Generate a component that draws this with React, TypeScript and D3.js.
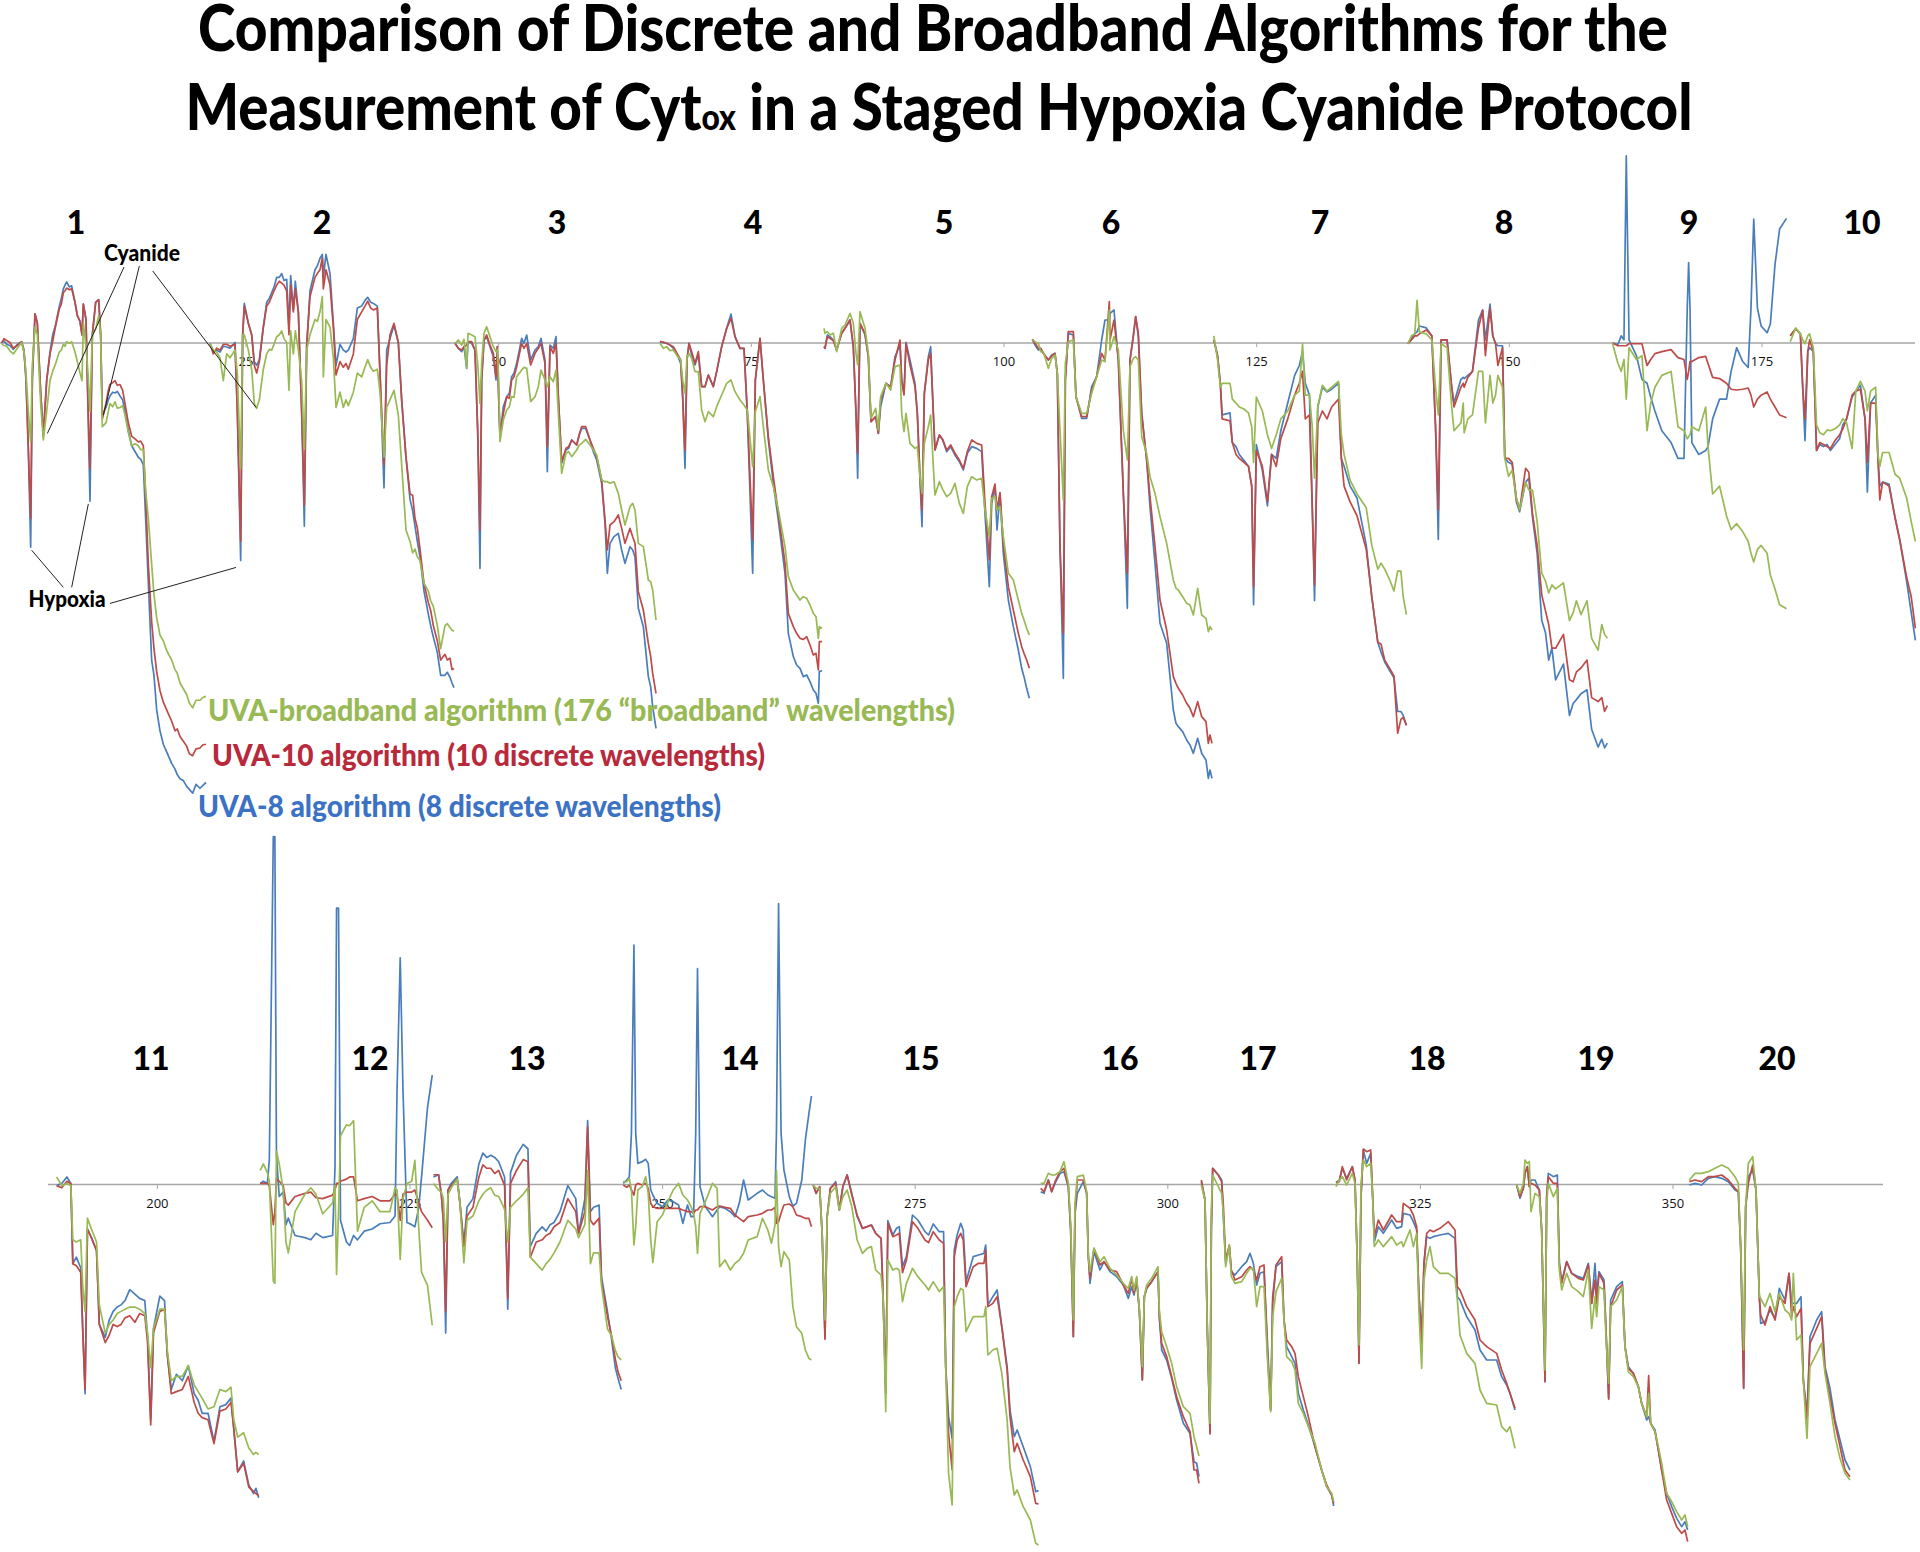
import React from "react";
import * as d3 from "d3";

// Each row: [time reading, UVA-8, UVA-10, UVA-broadband]; readings are digitised in the frame named per panel.
const panel1 = [[5,320,322,325],[12,316,310,328],[20,325,315,330],[30,328,320,342],[40,338,335,350],[52,325,328,335],[65,318,318,320],[72,340,345,345],[78,420,410,400],[85,600,600,500],[92,855,780,580],[97,420,410,380],[105,245,245,280],[112,270,270,300],[122,450,450,480],[130,560,565,575],[140,420,420,500],[150,345,350,420],[158,300,318,395],[165,280,285,380],[178,225,232,345],[184,205,220,340],[190,180,190,325],[195,170,185,330],[200,162,178,318],[208,175,182,322],[215,172,180,318],[225,215,215,345],[232,250,250,370],[240,265,265,400],[246,300,300,420],[250,220,220,270],[258,260,260,330],[264,500,480,400],[270,735,650,500],[277,300,300,300],[287,215,215,285],[296,208,208,250],[302,300,300,300],[307,510,520,540],[318,490,480,530],[325,470,445,500],[330,460,430,480],[338,450,425,488],[345,452,420,475],[352,448,432,492],[360,460,430,490],[368,470,445,485],[375,500,480,510],[385,550,530,555],[395,590,565,590],[405,605,572,585],[415,620,580,590],[422,625,578,600],[430,640,590,600],[436,760,700,700],[445,950,900,780],[455,1150,1050,900],[462,1190,1120,980],[470,1280,1180,1040],[480,1335,1230,1085],[490,1370,1260,1100],[500,1390,1280,1125],[515,1420,1310,1150],[525,1435,1335,1175],[532,1450,1330,1185],[540,1460,1350,1210],[550,1465,1362,1225],[560,1480,1375,1240],[568,1488,1395,1262],[578,1498,1400,1275],[588,1475,1382,1255],[600,1485,1380,1255],[608,1478,1372,1248],[618,1470,1370,1245]];
const panel2 = [[630,323,323,323],[640,345,350,340],[650,340,335,345],[660,345,340,360],[670,330,325,420],[680,332,325,350],[690,335,330,360],[705,320,325,340],[712,500,500,400],[722,890,840,650],[728,300,300,300],[733,218,225,300],[745,270,270,340],[755,300,300,390],[763,370,380,480],[770,380,400,492],[778,365,370,470],[790,280,280,390],[800,215,225,350],[808,205,215,338],[815,190,200,340],[822,175,185,325],[830,150,170,305],[838,150,160,300],[845,140,165,290],[852,158,170,310],[860,155,185,320],[867,280,300,445],[872,145,170,290],[880,235,240,350],[886,160,180,290],[895,240,240,340],[905,500,500,420],[913,800,745,600],[920,330,330,340],[930,185,200,300],[945,130,150,260],[952,120,140,265],[960,100,130,240],[967,90,100,200],[970,150,180,410],[978,90,130,260],[990,140,170,280],[1000,270,280,360],[1008,380,405,490],[1020,325,370,450],[1030,340,385,490],[1038,345,375,470],[1045,340,390,485],[1060,310,350,450],[1072,230,260,400],[1085,225,240,410],[1095,210,225,385],[1103,202,212,365],[1112,215,230,385],[1120,218,235,395],[1132,225,230,390],[1140,400,400,450],[1152,700,640,620],[1160,340,380,490],[1170,310,300,470],[1182,275,270,445],[1195,320,320,510],[1205,470,470,640],[1218,620,620,810],[1230,730,715,840],[1238,760,720,870],[1245,800,780,860],[1252,840,805,880],[1260,880,860,890],[1272,970,950,950],[1285,1030,1000,970],[1292,1060,1020,995],[1300,1090,1060,1010],[1312,1130,1100,1060],[1322,1190,1150,1120],[1335,1190,1135,1060],[1342,1182,1150,1055],[1350,1195,1145,1065],[1356,1210,1175,1072],[1362,1222,1172,1075]];
const panel3 = [[45,190,190,190],[55,205,205,180],[65,215,210,195],[72,200,200,178],[80,265,195,265],[84,185,185,160],[95,190,185,165],[105,210,210,170],[113,450,450,250],[120,865,750,370],[125,300,300,250],[132,180,180,160],[140,170,165,140],[150,200,195,170],[160,230,220,200],[168,300,290,215],[172,200,200,210],[176,350,350,300],[180,470,470,485],[190,380,400,420],[200,350,350,390],[208,340,355,380],[215,290,300,350],[222,280,290,352],[230,250,260,290],[245,175,190,270],[252,190,205,262],[260,165,190,265],[272,240,255,365],[285,210,220,350],[295,200,205,320],[303,175,190,270],[315,240,250,300],[322,575,500,320],[330,195,200,290],[340,205,220,305],[348,170,190,270],[355,350,350,400],[365,550,545,580],[378,510,505,520],[386,505,500,515],[395,480,480,530],[410,495,495,510],[418,465,462,495],[425,445,440,490],[437,445,440,478],[450,480,480,495],[460,515,505,510],[470,540,530,525],[485,610,600,600],[495,730,720,605],[502,880,810,605],[510,790,735,610],[522,770,725,605],[535,760,705,640],[545,810,745,690],[555,850,790,735],[570,800,745,680],[578,810,770,670],[585,830,790,690],[595,985,935,790],[610,1040,990,800],[625,1190,1090,900],[632,1220,1130,905],[638,1280,1180,930],[648,1345,1240,1020]];
const panel4 = [[660,185,185,190],[670,188,186,205],[680,190,190,200],[690,195,195,212],[700,205,200,210],[712,225,222,228],[722,250,240,240],[728,350,350,300],[735,565,510,340],[741,240,240,230],[747,190,190,220],[755,225,215,235],[765,255,250,275],[775,225,215,275],[785,320,320,390],[795,320,320,425],[805,285,285,395],[820,320,320,410],[830,275,275,380],[845,200,200,345],[860,145,145,310],[873,102,115,300],[885,170,170,335],[900,205,205,360],[912,205,205,375],[922,400,400,390],[938,880,780,560],[946,300,300,395],[960,175,175,350],[970,300,300,440],[985,480,470,570],[1000,610,590,620],[1015,720,700,690],[1035,880,850,800],[1045,1060,1000,890],[1060,1130,1040,930],[1070,1155,1060,945],[1080,1165,1075,960],[1090,1190,1078,950],[1100,1185,1070,955],[1110,1205,1095,975],[1120,1230,1125,1000],[1128,1240,1120,1010],[1135,1270,1170,1075],[1138,1175,1085,1040],[1146,1172,1085,1045]];
const panel5 = [[72,200,200,145],[75,205,205,160],[82,165,170,155],[90,170,175,165],[100,180,182,160],[110,210,210,215],[125,160,160,145],[135,145,145,135],[150,120,120,100],[160,200,200,130],[168,400,400,220],[173,595,520,255],[180,130,130,95],[195,165,160,145],[205,230,230,220],[213,425,425,415],[227,410,410,385],[235,460,460,450],[242,380,360,350],[258,310,310,310],[272,320,320,330],[285,230,240,260],[300,195,180,255],[305,300,300,400],[312,340,345,455],[318,187,190,400],[330,240,255,490],[345,310,320,505],[352,400,400,500],[360,600,590,590],[366,740,690,640],[373,340,340,490],[385,230,240,440],[392,200,220,405],[400,400,400,560],[405,510,510,645],[418,465,465,605],[428,480,478,628],[440,515,510,650],[452,500,495,640],[465,525,520,610],[478,545,540,670],[490,570,565,700],[502,520,515,620],[515,500,480,590],[530,505,490,600],[545,515,495,595],[555,700,670,690],[568,920,840,770],[575,670,650,655],[585,620,612,650],[591,750,690,690],[600,640,638,680],[610,820,790,770],[625,960,920,880],[640,1040,990,900],[655,1110,1060,960],[665,1165,1100,1000],[672,1190,1120,1020],[680,1225,1140,1045],[688,1255,1165,1065]];
const panel6 = [[697,178,178,178],[705,195,190,185],[715,210,205,190],[722,205,205,215],[730,220,220,215],[745,240,240,265],[755,225,228,235],[765,220,220,225],[772,280,280,280],[780,800,800,450],[790,1195,1060,660],[796,300,300,250],[805,160,155,185],[820,165,155,180],[828,350,350,350],[845,415,410,400],[860,415,410,400],[875,320,330,340],[890,290,290,290],[905,180,220,240],[915,120,240,245],[928,120,65,90],[930,100,180,210],[942,90,120,170],[955,240,240,210],[970,640,640,450],[982,985,880,540],[990,240,240,260],[1000,165,170,235],[1007,110,110,230],[1015,170,160,240],[1025,400,400,470],[1040,540,540,520],[1050,680,650,590],[1065,850,800,640],[1080,1030,960,710],[1100,1090,1050,790],[1120,1290,1190,900],[1128,1330,1210,925],[1135,1340,1225,930],[1148,1355,1245,950],[1160,1380,1270,970],[1170,1395,1285,975],[1180,1420,1310,1005],[1193,1375,1265,925],[1205,1420,1310,1005],[1218,1440,1325,1015],[1225,1495,1390,1055],[1230,1470,1365,1040],[1236,1495,1390,1050]];
const panel7 = [[30,480,480,470],[38,520,520,530],[44,590,590,600],[48,670,680,590],[65,665,685,590],[70,740,740,630],[78,750,770,640],[85,770,780,650],[95,785,790,655],[105,800,800,665],[112,850,850,700],[116,1150,1105,790],[122,745,760,625],[135,810,800,660],[146,900,890,720],[155,770,770,755],[165,780,800,720],[175,710,730,680],[190,640,680,660],[205,570,620,620],[215,545,590,610],[222,510,560,490],[228,590,680,620],[237,620,670,620],[243,900,900,700],[248,1140,1100,830],[255,650,690,650],[265,600,660,595],[275,612,680,610],[285,605,650,600],[300,590,630,585],[306,780,780,720],[312,800,850,770],[325,850,890,835],[340,880,925,870],[360,1000,1010,905],[372,1130,1130,1000],[385,1245,1245,1060],[392,1270,1250,1045],[400,1295,1290,1060],[410,1315,1310,1085],[420,1335,1330,1115],[428,1420,1475,1065],[435,1420,1440,1065],[440,1430,1435,1130],[447,1455,1455,1175]];
const panel8 = [[450,490,490,490],[458,475,480,470],[465,465,470,465],[470,460,470,380],[475,445,465,460],[490,450,455,465],[502,470,470,480],[510,700,700,600],[516,985,910,670],[522,480,480,490],[535,480,480,500],[545,600,600,650],[550,640,650,710],[565,580,600,690],[570,575,590,640],[572,578,600,715],[580,570,575,680],[590,560,560,670],[603,430,450,560],[612,405,405,560],[618,480,520,690],[628,390,400,570],[634,470,470,640],[640,490,490,620],[645,495,545,570],[655,495,500,600],[660,780,780,780],[668,790,780,825],[676,795,790,810],[685,890,880,880],[692,915,910,910],[705,840,805,840],[712,830,815,860],[720,930,920,860],[730,1020,1000,940],[740,1190,1125,1070],[748,1220,1165,1090],[755,1290,1200,1120],[762,1260,1260,1100],[770,1340,1260,1110],[787,1300,1225,1095],[800,1430,1340,1190],[808,1400,1345,1170],[815,1390,1320,1140],[825,1375,1310,1175],[838,1365,1290,1140],[848,1465,1385,1235],[862,1510,1395,1265],[870,1490,1385,1200],[876,1512,1420,1225],[882,1500,1405,1235]];
const panel9 = [[893,488,488,488],[905,492,495,540],[912,470,495,560],[918,480,495,530],[923,15,495,630],[929,480,490,500],[945,520,490,530],[957,580,490,520],[968,590,545,710],[976,625,530,640],[985,660,515,600],[1000,710,510,570],[1020,740,505,560],[1035,780,525,700],[1048,780,530,710],[1055,400,580,730],[1058,285,560,725],[1061,400,535,720],[1065,740,535,700],[1080,770,525,710],[1095,760,522,650],[1100,750,540,750],[1110,680,575,870],[1125,630,578,850],[1140,630,590,925],[1150,560,605,960],[1162,500,607,945],[1175,535,605,965],[1187,550,602,990],[1193,400,620,1020],[1199,175,650,1042],[1207,400,630,1010],[1215,445,620,1000],[1228,462,612,1020],[1235,440,630,1075],[1245,290,650,1110],[1255,200,670,1150],[1270,173,677,1160]];
const panel10 = [[1278,470,470,485],[1290,452,452,450],[1300,465,465,465],[1305,600,600,480],[1310,735,680,490],[1316,510,510,470],[1320,500,480,465],[1328,510,510,500],[1335,760,760,695],[1342,745,740,715],[1350,750,745,720],[1358,745,750,708],[1365,760,755,710],[1375,745,735,705],[1385,730,720,695],[1392,695,705,680],[1400,680,680,690],[1412,625,620,755],[1420,610,610,610],[1430,595,605,585],[1440,680,680,610],[1445,865,790,660],[1452,640,640,610],[1463,620,640,600],[1468,780,780,770],[1472,850,885,800],[1478,840,840,765],[1492,845,850,765],[1505,930,930,820],[1515,985,985,830],[1530,1090,1080,880],[1540,1170,1130,940],[1549,1240,1210,990]];
const panel11 = [[42,820,820,800],[55,815,825,820],[68,800,810,815],[78,815,815,820],[83,1000,1000,945],[92,985,1005,950],[103,1010,1020,945],[108,1150,1150,1050],[114,1300,1290,1110],[120,920,920,895],[130,940,940,920],[143,970,970,950],[150,1140,1140,1095],[165,1170,1182,1160],[175,1130,1165,1140],[185,1110,1140,1130],[195,1100,1145,1115],[205,1095,1140,1110],[215,1085,1125,1105],[227,1060,1120,1100],[240,1070,1135,1100],[252,1080,1115,1105],[265,1085,1120,1115],[272,1170,1180,1160],[280,1360,1372,1240],[287,1150,1160,1150],[303,1075,1110,1105],[315,1085,1105,1105],[322,1210,1210,1200],[332,1290,1300,1270],[345,1255,1295,1260],[360,1270,1290,1260],[375,1235,1260,1235],[390,1300,1320,1280],[400,1315,1345,1295],[410,1345,1355,1310],[425,1345,1360,1335],[440,1410,1415,1330],[455,1330,1340,1290],[470,1325,1335,1295],[483,1310,1320,1285],[490,1380,1380,1360],[500,1480,1480,1400],[515,1455,1460,1390],[528,1510,1515,1425],[540,1530,1525,1440],[546,1518,1530,1435],[553,1540,1535,1440]];
const panel12 = [[557,815,815,785],[565,810,815,770],[575,815,815,790],[580,760,820,810],[590,15,910,1040],[594,15,880,1045],[598,750,805,740],[605,845,810,770],[615,835,820,830],[622,910,860,950],[628,895,865,975],[645,935,845,880],[670,940,838,840],[685,945,835,825],[698,930,848,840],[715,940,850,885],[740,935,842,860],[746,780,830,820],[750,180,815,1025],[755,180,815,880],[760,900,810,705],[775,950,805,680],[783,958,800,682],[793,935,800,670],[803,945,855,925],[820,925,850,870],[840,920,845,855],[860,908,855,880],[885,905,855,880],[898,890,840,825],[903,600,840,830],[911,295,900,990],[918,600,840,850],[928,905,835,815],[940,910,835,810],[948,915,830,762],[958,870,860,920],[965,800,880,1020],[980,640,900,1050],[992,565,917,1142]];
const panel13 = [[995,800,795,815],[1008,795,795,830],[1015,840,840,835],[1020,900,900,850],[1026,1160,1110,950],[1032,830,830,840],[1040,815,820,825],[1055,800,805,805],[1062,860,860,860],[1072,955,960,998],[1080,870,890,900],[1095,850,870,890],[1110,770,800,855],[1120,745,772,840],[1130,755,780,830],[1140,750,780,825],[1150,755,792,842],[1160,765,785,845],[1175,800,820,875],[1183,1105,1080,950],[1190,790,815,870],[1205,750,785,855],[1222,725,760,840],[1234,735,765,825],[1240,960,985,985],[1255,930,950,1000],[1270,915,945,1015],[1280,925,935,1000],[1290,910,930,990],[1300,905,915,975],[1315,880,905,950],[1335,820,850,900],[1355,850,880,920],[1362,930,930,940],[1378,850,880,910],[1385,670,685,785],[1392,880,900,1000],[1400,870,910,975],[1414,865,895,975],[1420,1030,1040,1050],[1435,1110,1120,1150],[1445,1170,1165,1165],[1455,1240,1220,1200],[1462,1265,1250,1215],[1470,1290,1270,1222]];
const panel14 = [[65,250,255,245],[75,240,262,245],[82,230,255,235],[88,100,270,270],[95,-465,285,435],[100,100,255,380],[106,190,250,270],[118,185,255,260],[128,178,250,230],[135,190,265,280],[142,270,310,420],[148,285,320,488],[160,310,325,365],[175,320,325,345],[190,300,325,305],[205,305,325,270],[220,315,325,250],[232,370,330,285],[245,315,335,300],[255,350,335,320],[262,350,340,340],[268,100,330,380],[273,-394,330,460],[280,260,320,340],[295,320,320,305],[315,350,330,250],[328,330,320,265],[335,320,318,500],[350,325,322,480],[365,335,325,510],[378,350,345,490],[390,310,355,480],[402,240,365,460],[415,300,350,420],[440,280,345,410],[455,270,340,355],[470,285,330,390],[480,290,330,430],[490,295,322,375],[494,100,370,210],[500,-589,365,440],[507,100,340,500],[515,210,315,455],[530,290,312,480],[540,318,320,620],[550,310,345,680],[565,240,350,700],[575,120,355,750],[585,40,355,775],[592,-12,380,780]];
const panel15 = [[597,255,255,255],[605,280,280,265],[615,260,260,265],[622,400,400,400],[630,715,718,660],[636,350,350,350],[645,265,265,280],[660,245,250,260],[670,330,330,330],[680,260,260,290],[692,225,225,270],[705,280,285,320],[720,350,345,420],[735,385,385,460],[748,380,380,445],[760,375,375,440],[772,400,400,510],[787,415,415,525],[793,600,600,600],[800,880,880,935],[806,362,370,480],[820,405,410,510],[830,385,405,505],[838,380,400,510],[847,500,518,605],[858,470,480,550],[875,345,365,505],[890,360,385,530],[910,395,420,555],[920,405,428,570],[933,372,395,545],[950,395,420,575],[962,395,430,560],[968,800,800,800],[976,950,1000,1120],[986,1015,1110,1215],[992,450,470,620],[1000,405,420,590],[1010,370,400,565],[1017,390,420,570],[1025,545,560,695],[1045,470,500,650],[1060,465,490,650],[1075,460,490,650],[1080,435,450,620],[1086,615,620,765],[1100,590,610,750],[1112,570,590,745],[1125,680,680,820],[1140,800,810,960],[1148,930,950,1100],[1160,1010,1055,1185],[1168,990,1030,1170],[1185,1040,1080,1220],[1205,1100,1130,1260],[1220,1175,1210,1330],[1228,1172,1212,1335]];
const panel16 = [[62,185,175,160],[72,190,185,160],[85,150,150,130],[95,185,185,135],[105,160,155,135],[120,130,125,125],[132,125,115,95],[145,170,170,160],[152,300,300,280],[160,620,620,570],[165,250,250,220],[172,190,150,140],[190,155,150,135],[200,190,190,185],[205,380,380,380],[210,460,445,425],[222,365,355,355],[240,420,405,395],[252,395,395,380],[270,425,420,415],[290,440,425,435],[310,465,465,460],[325,505,490,475],[335,470,445,440],[342,495,490,480],[350,455,445,440],[358,540,540,540],[367,750,750,710],[373,500,500,500],[380,475,475,465],[395,455,455,445],[414,425,425,410],[418,560,560,540],[425,660,640,605],[440,690,680,650],[455,745,740,700],[470,810,800,770],[490,880,860,830],[510,910,905,850],[522,995,1020,920],[530,1000,1020,950],[537,1040,1060,978]];
const panel17 = [[544,155,150,165],[555,210,210,210],[562,600,600,600],[570,910,912,880],[574,300,300,240],[578,115,115,135],[595,135,135,170],[605,150,155,190],[610,260,225,250],[617,400,390,410],[628,350,345,345],[634,425,420,440],[645,435,450,460],[665,410,440,455],[680,395,420,430],[690,370,410,415],[700,400,420,415],[710,465,450,530],[720,430,410,470],[732,425,405,470],[742,630,660,680],[752,840,840,845],[758,500,520,560],[768,410,405,485],[785,395,380,445],[792,570,570,570],[800,650,630,680],[815,680,650,695],[825,700,670,720],[835,790,740,820],[850,840,800,850],[865,885,860,890],[885,950,950,940],[905,1020,1020,1020],[920,1070,1065,1070],[935,1095,1095,1090],[941,1128,1120,1115]];
const panel18 = [[948,158,158,170],[958,150,155,150],[967,115,110,140],[980,145,150,165],[997,110,110,130],[1005,150,150,160],[1012,400,400,400],[1017,700,700,645],[1023,200,200,160],[1030,60,57,90],[1040,100,65,110],[1052,70,60,100],[1058,200,200,200],[1063,335,320,350],[1075,290,270,330],[1090,310,300,350],[1115,270,255,320],[1130,295,275,345],[1145,290,275,335],[1150,250,220,350],[1170,255,235,300],[1180,275,255,350],[1190,300,290,310],[1197,500,500,550],[1205,610,640,715],[1212,400,400,450],[1220,320,310,390],[1230,325,300,350],[1240,320,305,410],[1260,315,295,430],[1285,310,275,430],[1305,325,300,445],[1312,500,470,510],[1320,510,480,615],[1340,560,530,670],[1365,600,570,700],[1380,660,630,780],[1400,690,650,820],[1430,690,670,825],[1445,740,720,890],[1460,765,760,905],[1470,790,790,890],[1485,840,835,955]];
const panel19 = [[290,165,165,165],[300,205,200,190],[310,175,175,160],[315,130,130,90],[322,110,110,100],[328,170,170,95],[333,150,160,245],[345,150,165,190],[358,180,180,200],[365,300,300,300],[375,755,755,720],[380,200,200,220],[385,130,140,160],[400,140,160,200],[412,135,160,175],[418,400,400,420],[425,455,460,480],[440,395,395,430],[455,430,430,470],[475,440,445,485],[490,445,450,500],[505,400,405,420],[515,520,520,595],[525,400,450,500],[530,490,520,560],[537,425,430,470],[552,450,460,480],[558,600,600,620],[566,805,808,760],[572,510,530,530],[590,470,480,510],[607,455,465,470],[615,650,650,650],[625,710,715,725],[640,730,730,740],[655,770,770,770],[665,820,820,820],[680,870,860,860],[686,860,737,790],[692,880,880,880],[705,900,905,905],[715,960,960,950],[725,1020,1020,1000],[740,1090,1110,1090],[755,1130,1150,1115],[770,1165,1190,1145],[785,1190,1210,1170],[795,1175,1200,1155],[803,1200,1235,1190]];
const panel20 = [[808,165,155,150],[825,160,150,130],[845,165,155,130],[865,145,140,125],[885,140,140,115],[905,145,135,105],[925,155,150,115],[945,180,175,140],[955,185,185,160],[962,350,350,350],[971,775,775,660],[977,230,230,230],[985,140,160,100],[998,120,105,80],[1008,180,180,180],[1018,500,500,500],[1022,580,555,505],[1035,575,585,530],[1050,540,530,490],[1065,565,570,545],[1078,475,500,490],[1095,510,520,540],[1107,430,430,550],[1115,520,560,570],[1120,520,530,430],[1130,520,560,630],[1143,500,535,615],[1150,750,750,750],[1161,850,870,925],[1170,620,640,710],[1190,570,595,670],[1205,545,560,640],[1215,710,720,730],[1230,775,800,820],[1245,870,880,920],[1260,930,950,985],[1275,990,1020,1030],[1290,1020,1040,1050]];

const topTicks = [25, 50, 75, 100, 125, 150, 175];
const bottomTicks = [200, 225, 250, 275, 300, 325, 350];
const topNumbers = ["1","2","3","4","5","6","7","8","9","10"];
const bottomNumbers = ["11","12","13","14","15","16","17","18","19","20"];
const topNumberAt = [76, 322, 557, 753, 944, 1111, 1320, 1504, 1689, 1862];
const bottomNumberAt = [151, 370, 527, 740, 921, 1120, 1258, 1427, 1596, 1777];

const frames: Record<string, number[][]> = {
  A: [[0,1440],[0,480],[0,1568],[220,820]],
  B: [[0,1200],[440,840],[0,1350],[280,730]],
  C: [[0,1290],[800,1230],[0,1560],[280,800]],
  D: [[0,1559],[1200,1920],[0,1568],[150,770]],
  E: [[0,1568],[40,660],[0,1568],[830,1510]],
  F: [[0,1568],[600,1160],[0,1356],[1100,1552]],
  G: [[0,1350],[1020,1470],[0,1266],[1130,1552]],
  H: [[0,1500],[1420,1920],[0,1266],[1130,1552]],
};
const panels: [number[][], string][] = [
  [panel1,"A"],[panel2,"A"],[panel3,"B"],[panel4,"B"],[panel5,"C"],[panel6,"C"],[panel7,"D"],[panel8,"D"],[panel9,"D"],[panel10,"D"],
  [panel11,"E"],[panel12,"E"],[panel13,"E"],[panel14,"F"],[panel15,"F"],[panel16,"G"],[panel17,"G"],[panel18,"G"],[panel19,"H"],[panel20,"H"],
];
const seriesColors = ["#4a7ebb", "#be4b48", "#98b954"];

const cyanideLeaders = [[372,123,142,558],[418,120,310,510],[458,133,768,490]];
const hypoxiaLeaders = [[95,863,190,960],[265,742,215,960],[330,1002,708,908]];

const FONT = "Lato, 'Open Sans', sans-serif";

export default function App() {
  const topX = d3.scaleLinear([25, 175], [246, 1762]);
  const botX = d3.scaleLinear([200, 350], [157.4, 1673]);
  const fa = frames.A;
  const ax = d3.scaleLinear(fa[0], fa[1]);
  const ay = d3.scaleLinear(fa[2], fa[3]);

  const traces = panels.flatMap(([rows, f], pi) => {
    const fr = frames[f];
    const x = d3.scaleLinear(fr[0], fr[1]);
    const y = d3.scaleLinear(fr[2], fr[3]);
    return [1, 2, 3].map((col) => {
      const line = d3.line<number[]>().x((r) => x(r[0])).y((r) => y(r[col]));
      return <path key={`${pi}-${col}`} d={line(rows) || ""} fill="none" stroke={seriesColors[col - 1]} strokeWidth={1.7} strokeLinejoin="round" />;
    });
  });

  const leader = (l: number[], i: number) => (
    <line key={i} x1={ax(l[0])} y1={ay(l[1])} x2={ax(l[2])} y2={ay(l[3])} stroke="#222" strokeWidth={1} />
  );

  return (
    <svg width={1920} height={1552} viewBox="0 0 1920 1552" style={{ position: "absolute", left: 0, top: 0, background: "#fff" }} fontFamily={FONT}>
      <line x1={0} x2={1915} y1={343} y2={343} stroke="#a6a6a6" strokeWidth={1.6} />
      <line x1={48} x2={1883} y1={1184.5} y2={1184.5} stroke="#a6a6a6" strokeWidth={1.6} />
      {topTicks.map((t) => (
        <g key={t}>
          <line x1={topX(t)} x2={topX(t)} y1={343} y2={347} stroke="#a6a6a6" />
          <text x={topX(t)} y={366} fontSize={13} textAnchor="middle" fill="#111" fontFamily="'Open Sans', sans-serif">{t}</text>
        </g>
      ))}
      {bottomTicks.map((t) => (
        <g key={t}>
          <line x1={botX(t)} x2={botX(t)} y1={1185} y2={1189} stroke="#a6a6a6" />
          <text x={botX(t)} y={1208} fontSize={13} textAnchor="middle" fill="#111" fontFamily="'Open Sans', sans-serif">{t}</text>
        </g>
      ))}
      {traces}
      {cyanideLeaders.map(leader)}
      {hypoxiaLeaders.map(leader)}
      <text x={142} y={261} fontSize={22} fontWeight={900} textAnchor="middle" textLength={76} lengthAdjust="spacingAndGlyphs">Cyanide</text>
      <text x={67} y={607} fontSize={22} fontWeight={900} textAnchor="middle" textLength={77} lengthAdjust="spacingAndGlyphs">Hypoxia</text>
      {topNumbers.map((n, i) => (
        <text key={n} x={topNumberAt[i]} y={234} fontSize={32} fontWeight={900} textAnchor="middle">{n}</text>
      ))}
      {bottomNumbers.map((n, i) => (
        <text key={n} x={bottomNumberAt[i]} y={1070} fontSize={32} fontWeight={900} textAnchor="middle">{n}</text>
      ))}
      <text x={933} y={51} fontSize={64} fontWeight={900} textAnchor="middle" textLength={1470} lengthAdjust="spacingAndGlyphs">Comparison of Discrete and Broadband Algorithms for the</text>
      <text x={939} y={130} fontSize={64} fontWeight={900} textAnchor="middle" textLength={1507} lengthAdjust="spacingAndGlyphs">Measurement of Cyt<tspan fontSize={36}>ox</tspan> in a Staged Hypoxia Cyanide Protocol</text>
      <text x={208} y={721} fontSize={31} fontWeight={900} fill="#98b954" textLength={747} lengthAdjust="spacingAndGlyphs">UVA-broadband algorithm (176 “broadband” wavelengths)</text>
      <text x={212} y={766} fontSize={31} fontWeight={900} fill="#b8293c" textLength={553} lengthAdjust="spacingAndGlyphs">UVA-10 algorithm (10 discrete wavelengths)</text>
      <text x={198} y={817} fontSize={31} fontWeight={900} fill="#3c72c4" textLength={523} lengthAdjust="spacingAndGlyphs">UVA-8 algorithm (8 discrete wavelengths)</text>
    </svg>
  );
}
